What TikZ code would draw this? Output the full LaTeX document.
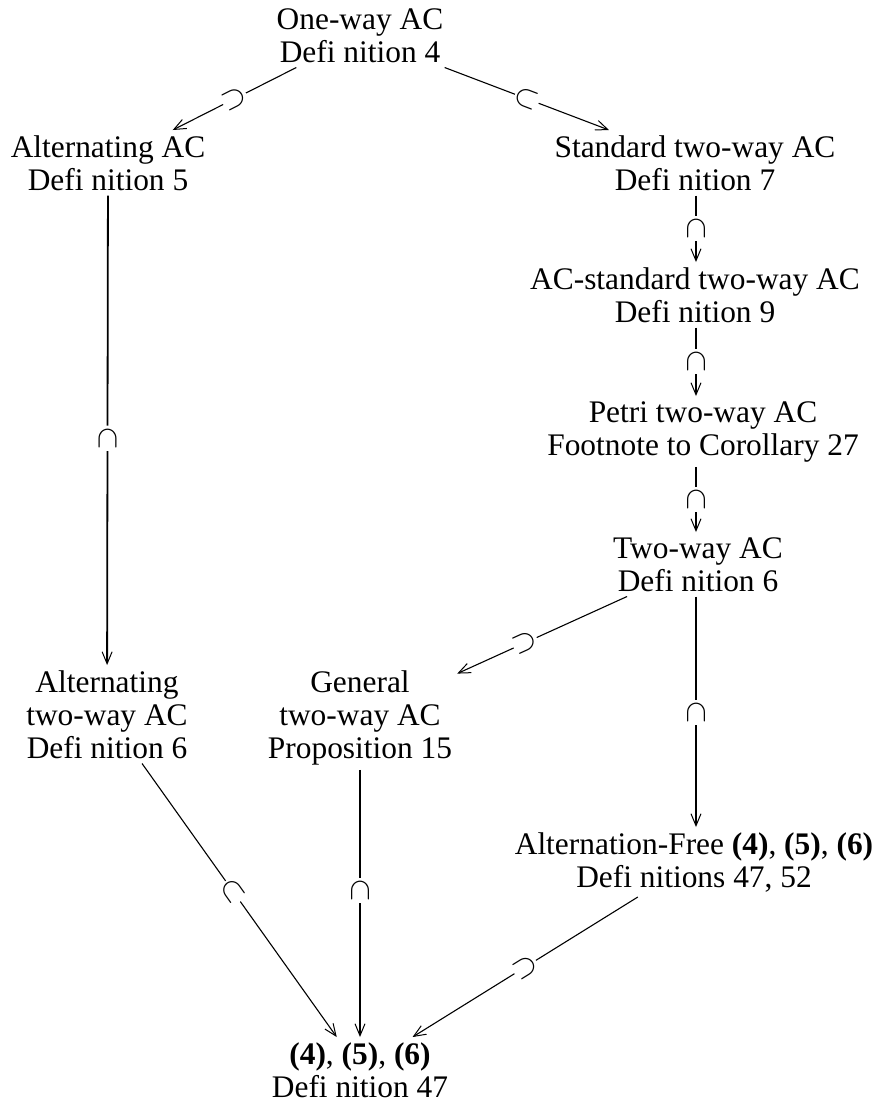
\documentclass[tikz,border=0pt]{standalone}
\usepackage{graphicx}
\usepackage{fontspec}
\setmainfont{Liberation Serif}
\usetikzlibrary{arrows.meta}
\newcommand{\sbs}{\scalebox{3.1}{$\subset$}}
\begin{document}
\begin{tikzpicture}[x=1pt,y=-1pt,
  lbl/.style={align=center, inner sep=5pt, font=\fontsize{31.4}{33}\selectfont, anchor=base},
  imp/.style={-{Straight Barb[length=12pt,width=10pt,line width=1pt]}, line width=1.1pt},
  vimp/.style={imp, line width=1.8pt},
  rimp/.style={imp, line width=2.3pt},
  sub/.style={sloped, allow upside down, fill=white, inner sep=0.5pt},
]
\useasboundingbox (0,0) rectangle (880,1104);
\node[lbl] (n1) at (360,62) {One-way AC\\Defi nition 4};
\node[lbl] (n2) at (108,190) {Alternating AC\\Defi nition 5};
\node[lbl] (n3) at (695,190) {Standard two-way AC\\Defi nition 7};
\node[lbl] (n4) at (695,322) {AC-standard two-way AC\\Defi nition 9};
\node[lbl] (n5) at (703,455) {Petri two-way AC\\Footnote to Corollary 27};
\node[lbl] (n6) at (698,591) {Two-way AC\\Defi nition 6};
\node[lbl] (n7) at (107,758) {Alternating\\two-way AC\\Defi nition 6};
\node[lbl] (n8) at (360,758) {General\\two-way AC\\Proposition 15};
\node[lbl] (n9) at (694,887) {Alternation-Free \textbf{(4)}, \textbf{(5)}, \textbf{(6)}\\Defi nitions 47, 52};
\node[lbl] (n10) at (360,1097) {\textbf{(4)}, \textbf{(5)}, \textbf{(6)}\\Defi nition 47};

\draw[imp] (n1) -- node[sub, pos=0.5]{\sbs} (n2);
\draw[imp] (n1) -- node[sub, pos=0.5]{\sbs} (n3);
\draw[rimp] (n3.south -| 696,0) -- node[sub, pos=0.5]{\sbs} (n4.north -| 696,0);
\draw[rimp] (n4.south -| 696,0) -- node[sub, pos=0.5]{\sbs} (n5.north -| 696,0);
\draw[rimp] (n5.south -| 696,0) -- node[sub, pos=0.5]{\sbs} (n6.north -| 696,0);
\draw[vimp] (n2) -- node[sub, pos=0.517]{\sbs} (n7);
\draw[imp] (n6) -- node[sub, pos=0.6]{\sbs} (n8);
\draw[rimp] (n6.south -| 696,0) -- node[sub, pos=0.505]{\sbs} (n9.north -| 696,0);
\draw[imp] (n7) -- node[sub, pos=0.467]{\sbs} (n10);
\draw[vimp] (n8) -- node[sub, pos=0.45]{\sbs} (n10);
\draw[imp] (n9) -- node[sub, pos=0.5]{\sbs} (n10);
\end{tikzpicture}
\end{document}
